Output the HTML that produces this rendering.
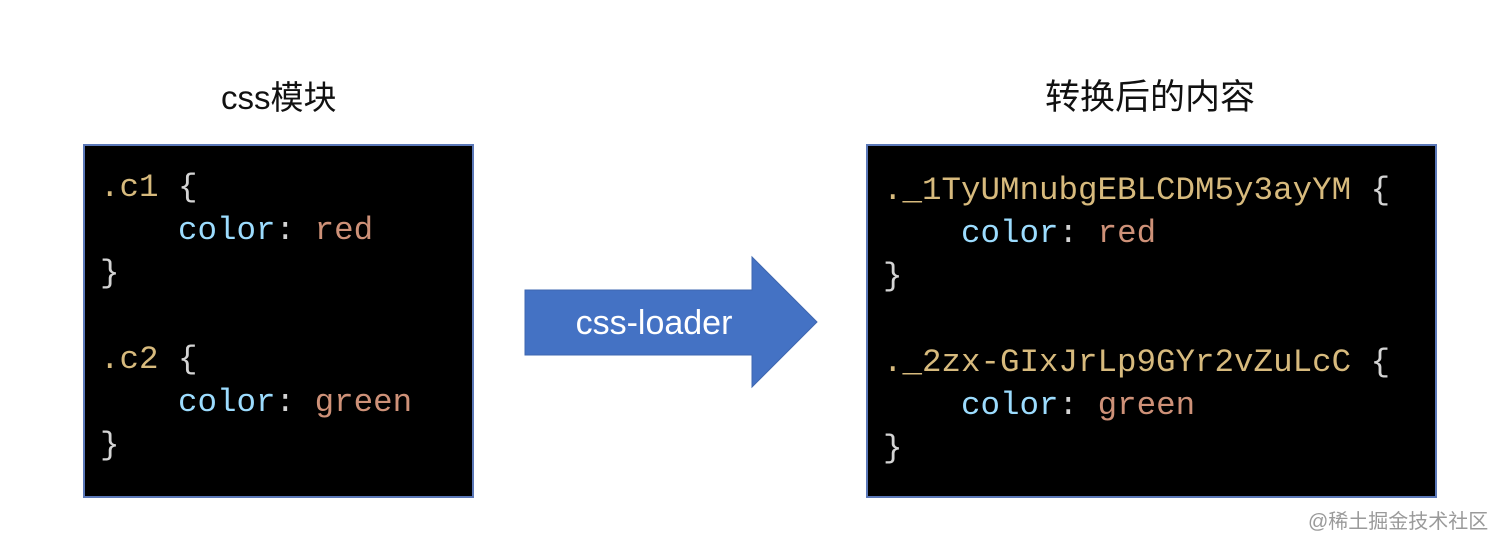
<!DOCTYPE html>
<html><head><meta charset="utf-8"><style>
html,body{margin:0;padding:0;background:#fff;}
body{width:1512px;height:543px;position:relative;overflow:hidden;font-family:"Liberation Sans","Noto Sans CJK SC",sans-serif;}
.t{position:absolute;font-size:33px;color:#111;white-space:nowrap;line-height:1;}
.box{position:absolute;background:#000;border:2px solid #5b78b8;box-sizing:border-box;}
.code{position:absolute;font-family:"Liberation Mono","DejaVu Sans Mono",monospace;font-size:32.5px;line-height:43px;white-space:pre;color:#d4d4d4;}
.s{color:#d7ba7d}.p{color:#9cdcfe}.v{color:#ce9178}
.wm{position:absolute;left:1308px;top:505px;font-size:20px;color:#9a9a9a;white-space:nowrap;}
</style></head><body>
<div class="t" style="left:221px;top:81px;">css模块</div>
<div class="t" style="left:1045px;top:80px;font-size:35px;">转换后的内容</div>
<div class="box" style="left:83px;top:144px;width:391px;height:354px;"></div>
<div class="code" style="left:100px;top:166px;"><span class="s">.c1</span> {
    <span class="p">color</span>: <span class="v">red</span>
}

<span class="s">.c2</span> {
    <span class="p">color</span>: <span class="v">green</span>
}</div>
<div class="box" style="left:866px;top:144px;width:571px;height:354px;"></div>
<div class="code" style="left:883px;top:169px;"><span class="s">._1TyUMnubgEBLCDM5y3ayYM</span> {
    <span class="p">color</span>: <span class="v">red</span>
}

<span class="s">._2zx-GIxJrLp9GYr2vZuLcC</span> {
    <span class="p">color</span>: <span class="v">green</span>
}</div>
<svg style="position:absolute;left:0;top:0" width="1512" height="543">
<polygon points="525,290 752,290 752,257 817,322 752,387 752,355 525,355" fill="#4472c4" stroke="#3e67b0" stroke-width="1"/>
<text x="654" y="334" font-family="Liberation Sans, sans-serif" font-size="34" fill="#fff" text-anchor="middle">css-loader</text>
</svg>
<div class="wm">@稀土掘金技术社区</div>
</body></html>
